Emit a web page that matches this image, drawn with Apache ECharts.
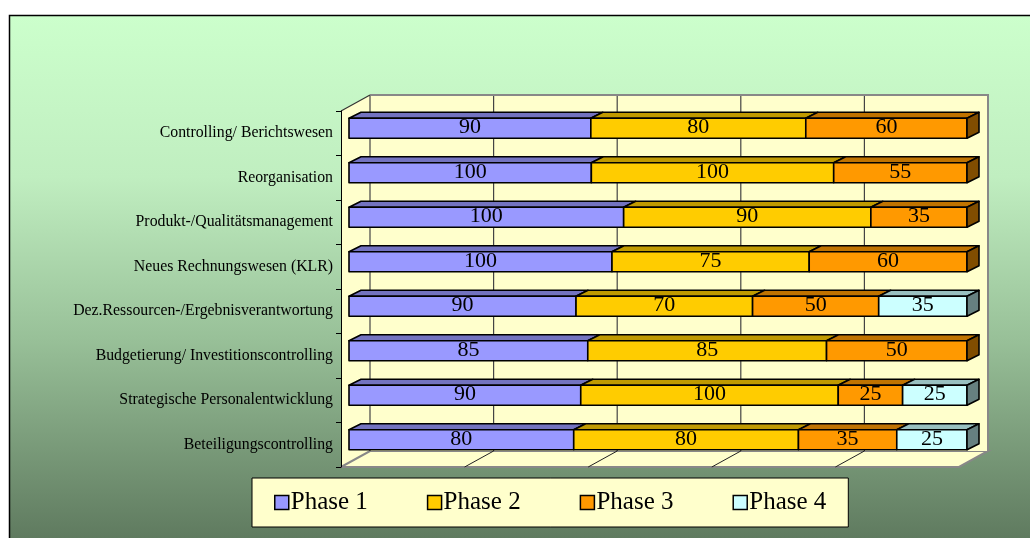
<!DOCTYPE html>
<html>
<head>
<meta charset="utf-8">
<script src="https://cdn.jsdelivr.net/npm/echarts@6/dist/echarts.min.js"></script>
<style>
  html, body { margin: 0; padding: 0; background: #fff; }
  #chart { width: 1030px; height: 538px; }
</style>
</head>
<body>
<div id="chart"></div>
<script>
// rows, top to bottom
const categories = [
  'Controlling/ Berichtswesen',
  'Reorganisation',
  'Produkt-/Qualitätsmanagement',
  'Neues Rechnungswesen (KLR)',
  'Dez.Ressourcen-/Ergebnisverantwortung',
  'Budgetierung/ Investitionscontrolling',
  'Strategische Personalentwicklung',
  'Beteiligungscontrolling'
];
const phaseNames = ['Phase 1', 'Phase 2', 'Phase 3', 'Phase 4'];
const phase1 = [90, 100, 100, 100, 90, 85, 90, 80];
const phase2 = [80, 100, 90, 75, 70, 85, 100, 80];
const phase3 = [60, 55, 35, 60, 50, 50, 25, 35];
const phase4 = [0, 0, 0, 0, 35, 0, 25, 25];
const gridSteps = [0, 0.2, 0.4, 0.6, 0.8];

const phases = [phase1, phase2, phase3, phase4];
const fronts = ['#9999FF', '#FFCC00', '#FF9900', '#CCFFFF'];
const tops = ['#7373C0', '#C09A00', '#C07300', '#99C0C0'];
const sides = ['#4D4D80', '#806600', '#804D00', '#668080'];
const cream = '#FFFFCC';

const chart = echarts.init(document.getElementById('chart'));

// 100% stacked: each row is scaled to its own total
const totals = categories.map((_, i) => phases.reduce((s, arr) => s + arr[i], 0));
function seriesData(p) {
  return categories.map((_, i) => {
    let start = 0;
    for (let k = 0; k < p; k++) start += phases[k][i];
    const v = phases[p][i];
    let last = 1;
    for (let k = p + 1; k < phases.length; k++) if (phases[k][i] > 0) last = 0;
    return [start / totals[i], (start + v) / totals[i], i, v, last];
  });
}

function barRender(p) {
  return function (params, api) {
    const v = api.value(3);
    if (!v) return;
    const a = api.coord([api.value(0), api.value(2)]);
    const b = api.coord([api.value(1), api.value(2)]);
    const DX = 8, DY = -5, H = 20, TX = 12, TY = -6;
    const x0 = a[0] + DX, x1 = b[0] + DX, yc = a[1] + DY;
    const yt = yc - H / 2, yb = yc + H / 2;
    const line = { stroke: '#000', lineWidth: 1.6, lineJoin: 'round' };
    const children = [
      { type: 'polygon', shape: { points: [[x0, yt], [x0 + TX, yt + TY], [x1 + TX, yt + TY], [x1, yt]] },
        style: Object.assign({ fill: tops[p] }, line) },
      { type: 'rect', shape: { x: x0, y: yt, width: x1 - x0, height: H },
        style: Object.assign({ fill: fronts[p] }, line) }
    ];
    if (api.value(4)) {
      children.push({ type: 'polygon', shape: { points: [[x1, yt], [x1 + TX, yt + TY], [x1 + TX, yb + TY], [x1, yb]] },
        style: Object.assign({ fill: sides[p] }, line) });
    }
    children.push({ type: 'text', style: {
      text: String(v), x: (x0 + x1) / 2, y: yc - 1, align: 'center', verticalAlign: 'middle',
      font: '22px "Liberation Serif"', fill: '#000' } });
    return { type: 'group', children };
  };
}

function frameRender(params, api) {
  const cs = params.coordSys;
  const L = cs.x, T = cs.y, R = cs.x + cs.width, B = cs.y + cs.height;
  const BX = 29, BY = -16;
  const ch = [];
  ch.push({ type: 'polygon', shape: { points: [[L, T], [L + BX, T + BY], [L + BX, B + BY], [L, B]] },
    style: { fill: cream, stroke: null } });
  ch.push({ type: 'polygon', shape: { points: [[L, B], [L + BX, B + BY], [R + BX, B + BY], [R, B]] },
    style: { fill: cream, stroke: '#888', lineWidth: 2 } });
  ch.push({ type: 'rect', shape: { x: L + BX, y: T + BY, width: R - L, height: B - T },
    style: { fill: cream, stroke: null } });
  gridSteps.forEach(f => {
    const x = api.coord([f, 0])[0];
    ch.push({ type: 'line', shape: { x1: x + BX, y1: T + BY, x2: x + BX, y2: B + BY },
      style: { stroke: '#444', lineWidth: 1.2 } });
    if (f > 0) {
      ch.push({ type: 'line', shape: { x1: x, y1: B, x2: x + BX, y2: B + BY },
        style: { stroke: '#222', lineWidth: 1 } });
    }
  });
  ch.push({ type: 'polyline', shape: { points: [[L + BX, T + BY], [R + BX, T + BY], [R + BX, B + BY]] },
    style: { stroke: '#888', lineWidth: 2, fill: null } });
  ch.push({ type: 'line', shape: { x1: L, y1: T, x2: L + BX, y2: T + BY },
    style: { stroke: '#333', lineWidth: 1.2 } });
  return { type: 'group', children: ch };
}

const series = [{
  type: 'custom',
  name: 'frame',
  z: 1,
  silent: true,
  renderItem: frameRender,
  data: [[0, 0]],
  encode: { x: 0, y: 1 }
}];
phases.forEach((_, p) => {
  series.push({
    type: 'custom',
    name: phaseNames[p],
    z: 2,
    itemStyle: { color: fronts[p] },
    renderItem: barRender(p),
    data: seriesData(p),
    encode: { x: [0, 1], y: 2 }
  });
});

chart.setOption({
  animation: false,
  graphic: [{
    type: 'rect', z: -10,
    shape: { x: 9.5, y: 15.5, width: 1040, height: 540 },
    style: {
      stroke: '#000', lineWidth: 1.5,
      fill: new echarts.graphic.LinearGradient(0, 0, 0, 1, [
        { offset: 0, color: '#CCFFCC' },
        { offset: 0.3, color: '#C0EEC0' },
        { offset: 0.6, color: '#98C098' },
        { offset: 1, color: '#5A745A' }
      ])
    }
  }],
  grid: { left: 341, right: 71, top: 111, bottom: 71, containLabel: false },
  xAxis: { type: 'value', min: 0, max: 1, show: false },
  yAxis: {
    type: 'category',
    inverse: true,
    data: categories,
    z: 5,
    axisLine: { show: true, lineStyle: { color: '#000', width: 1 } },
    axisTick: { show: true, length: 5, lineStyle: { color: '#000' } },
    axisLabel: { margin: 8, color: '#000', fontFamily: 'Liberation Serif', fontSize: 15.8 }
  },
  legend: {
    data: phaseNames,
    left: 252, top: 478,
    orient: 'horizontal',
    padding: [12, 22],
    itemGap: 59,
    itemWidth: 14, itemHeight: 14,
    icon: 'rect',
    backgroundColor: cream,
    borderColor: '#000', borderWidth: 1,
    itemStyle: { borderColor: '#000', borderWidth: 1.5 },
    textStyle: { fontFamily: 'Liberation Serif', fontSize: 25, color: '#000', padding: [0, 0, 0, -3] },
    selectedMode: false
  },
  series: series
});
</script>
</body>
</html>
